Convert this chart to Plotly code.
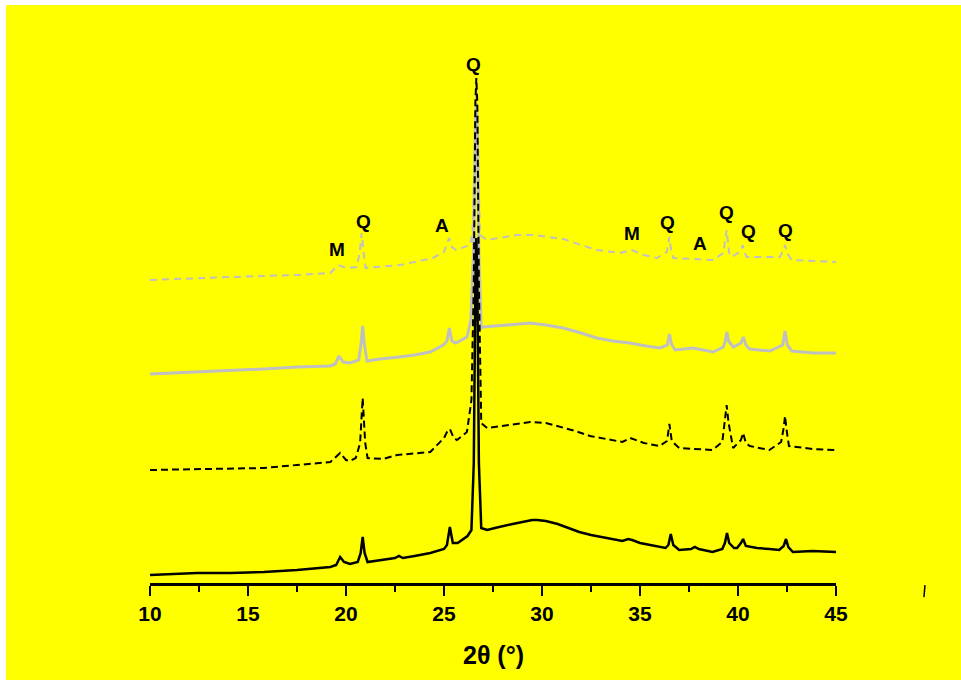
import plotly.graph_objects as go

# 2-theta (deg) and intensity (arbitrary units, offset stacked)
tt_black = [10, 11, 12.4, 14.1, 15.8, 17.5, 18.5, 19.2, 19.5, 19.7, 19.9, 20.2, 20.6, 20.75, 20.85, 20.95, 21.1,
            21.9, 22.5, 22.7, 22.9, 23.5, 24.3, 25.0, 25.15, 25.3, 25.45, 25.7, 26.2, 26.4, 26.52, 26.6, 26.65,
            26.7, 26.78, 26.9, 27.2, 27.6, 28.0, 28.5, 29.0, 29.5, 29.75, 30.2, 30.8, 31.4, 31.9, 32.5, 33.0,
            33.6, 34.1, 34.4, 34.6, 35.0, 35.5, 36.3, 36.45, 36.57, 36.7, 37.0, 37.6, 37.8, 38.0, 38.7, 39.2,
            39.33, 39.44, 39.55, 39.8, 39.95, 40.15, 40.26, 40.4, 40.97, 41.6, 42.1, 42.33, 42.45, 42.57, 42.8,
            43.8, 45]
i_black = [8, 9, 10, 10, 11, 13, 15, 16, 18, 26, 21, 19, 21, 30, 46, 30, 21,
           23, 25, 27, 25, 27, 30, 34, 38, 56, 40, 40, 47, 53, 120, 300, 345,
           300, 120, 55, 53, 55, 57, 59, 61, 63, 63, 62, 59, 55, 51, 48, 46,
           44, 42, 44, 43, 40, 38, 35, 38, 49, 38, 33, 34, 36, 34, 31, 34,
           40, 50, 40, 35, 35, 40, 44, 37, 35, 34, 33, 37, 44, 36, 31,
           32, 31]

tt_black_d = [10, 12.4, 14.1, 15.8, 17.5, 19.2, 19.7, 20.0, 20.2, 20.5, 20.72, 20.85, 20.98, 21.1, 21.9, 22.6,
              24.3, 25.0, 25.15, 25.3, 25.5, 25.66, 26.17, 26.4, 26.52, 26.6, 26.65, 26.7, 26.78, 26.9, 27.2,
              28.3, 29.4, 30.2, 31.0, 31.7, 32.45, 33.3, 34.1, 34.5, 35.2, 36.0, 36.38, 36.5, 36.62, 37.0, 38.0,
              38.7, 39.2, 39.33, 39.42, 39.52, 39.75, 40.15, 40.26, 40.4, 40.6, 41.6, 42.2, 42.33, 42.4, 42.5,
              42.6, 43.8, 45]
i_black_d = [113, 114, 115, 115, 118, 121, 130, 123, 122, 125, 140, 185, 140, 125, 124, 128,
             131, 145, 151, 154, 145, 143, 151, 183, 300, 480, 505, 480, 300, 160, 155,
             158, 161, 160, 156, 152, 147, 144, 141, 145, 140, 137, 142, 159, 142, 135, 134,
             133, 141, 160, 178, 160, 135, 143, 150, 140, 137, 133, 141, 155, 167, 150,
             137, 134, 133]

tt_gray = [10, 12.4, 14.1, 15.8, 17.5, 19.2, 19.45, 19.64, 19.85, 20.2, 20.65, 20.77, 20.85, 20.93, 21.07,
           21.73, 22.7, 23.5, 24.29, 24.97, 25.15, 25.27, 25.4, 25.6, 26.17, 26.37, 26.5, 26.6, 26.65, 26.7,
           26.78, 26.9, 27.0, 28.2, 29.39, 30.2, 31.09, 32.0, 32.79, 33.6, 34.49, 35.3, 36.02, 36.4, 36.5,
           36.62, 36.8, 37.7, 38.74, 39.25, 39.35, 39.43, 39.52, 39.76, 40.15, 40.27, 40.4, 40.6, 41.63,
           42.28, 42.4, 42.52, 42.74, 43.84, 45]
i_gray = [209, 211, 212, 214, 216, 217, 219, 227, 221, 220, 223, 240, 257, 240, 222,
          224, 226, 228, 231, 238, 242, 255, 242, 240, 246, 263, 330, 460, 475, 460,
          330, 255, 256, 258, 260, 258, 255, 250, 245, 242, 240, 237, 235, 238, 249,
          238, 233, 235, 231, 236, 242, 251, 242, 236, 240, 246, 238, 234, 232,
          238, 252, 238, 232, 230, 230]

tt_gray_d = [10, 12.4, 14.1, 15.8, 17.5, 19.2, 19.6, 20.03, 20.54, 20.7, 20.8, 20.9, 21.0, 22.76, 24.44,
             25.0, 25.15, 25.26, 25.4, 25.6, 26.33, 26.45, 26.55, 26.65, 26.75, 26.84, 27.18, 28.0, 28.72,
             29.57, 30.3, 31.09, 32.0, 32.79, 33.98, 34.58, 35.2, 35.86, 36.37, 36.5, 36.6, 36.7, 37.7,
             38.74, 39.25, 39.42, 39.55, 39.67, 40.15, 40.24, 40.35, 40.44, 41.3, 42.14, 42.3, 42.4, 42.5,
             42.74, 44.0, 45]
i_gray_d = [303, 305, 306, 307, 308, 310, 318, 315, 316, 330, 350, 330, 315, 318, 325,
            331, 338, 345, 336, 333, 338, 350, 420, 500, 420, 348, 343, 346, 348,
            348, 346, 344, 338, 333, 330, 333, 328, 325, 331, 346, 331, 325, 324,
            323, 330, 353, 330, 326, 332, 338, 330, 326, 326, 326, 332, 338, 330,
            323, 322, 321]

# phase labels: M = mica, Q = quartz, A = anatase
lab_text = ["M", "Q", "A", "Q", "M", "Q", "A", "Q", "Q", "Q"]
lab_x = [19.54, 20.87, 24.90, 26.53, 34.59, 36.38, 38.06, 39.39, 40.51, 42.40]
lab_y = [334, 362, 358, 519, 350, 361, 340, 371, 352, 353]

x_ticks = [10, 15, 20, 25, 30, 35, 40, 45]

GRAY = "#c0c0c0"
fig = go.Figure()
fig.add_trace(go.Scatter(x=tt_gray, y=i_gray, mode="lines",
                         line=dict(color=GRAY, width=3), showlegend=False))
fig.add_trace(go.Scatter(x=tt_gray_d, y=i_gray_d, mode="lines",
                         line=dict(color=GRAY, width=2, dash="7px,5px"), showlegend=False))
fig.add_trace(go.Scatter(x=tt_black, y=i_black, mode="lines",
                         line=dict(color="black", width=2.5), showlegend=False))
fig.add_trace(go.Scatter(x=tt_black_d, y=i_black_d, mode="lines",
                         line=dict(color="black", width=2, dash="7px,4px"), showlegend=False))

for t, x, y in zip(lab_text, lab_x, lab_y):
    fig.add_annotation(x=x, y=y, text=f"<b>{t}</b>", showarrow=False,
                       font=dict(family="Liberation Sans", size=19, color="black"))

fig.add_annotation(xref="paper", yref="paper", x=0.5, y=-0.1377,
                   text="<b>2θ (°)</b>", showarrow=False, yanchor="middle",
                   font=dict(family="Liberation Sans", size=25, color="black"))

# yellow page area (white strip at top/left)
fig.add_shape(type="rect", xref="paper", yref="paper", x0=-0.2099, x1=1.25,
              y0=-0.25, y1=1.1052, fillcolor="#ffff00", line=dict(width=0), layer="below")
# stray mark at right of axis
fig.add_shape(type="line", xref="paper", yref="paper", x0=1.1297, x1=1.1282,
              y0=-0.004, y1=-0.027, line=dict(color="black", width=1.5))

fig.update_layout(
    width=961, height=680,
    margin=dict(l=150, r=125, t=60, b=97),
    paper_bgcolor="white", plot_bgcolor="rgba(0,0,0,0)",
    font=dict(family="Liberation Sans", color="black"),
)
fig.update_xaxes(range=[10, 45], tickvals=x_ticks, ticktext=[f"<b>{v}</b>" for v in x_ticks],
                 ticks="outside", ticklen=10, tickwidth=2, tickcolor="black",
                 showline=True, linewidth=2.5, linecolor="black", showgrid=False, zeroline=False,
                 tickfont=dict(family="Liberation Sans", size=21, color="black"),
                 minor=dict(dtick=2.5, tick0=10, ticks="outside", ticklen=6, tickwidth=2, tickcolor="black"))
fig.update_yaxes(range=[0, 523], visible=False)

fig.write_html("out.html", config={"displayModeBar": False},
               post_script="document.body.style.margin='0px';")
